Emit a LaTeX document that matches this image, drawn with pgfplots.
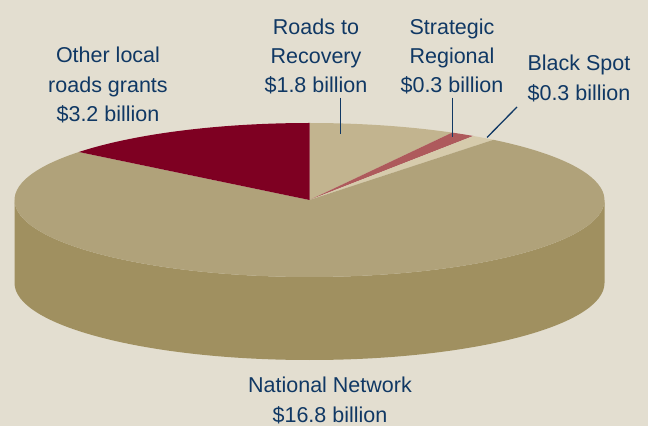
\documentclass[border=0pt]{standalone}
\usepackage{pgfplots}
\pgfplotsset{compat=1.18}
\usepackage{pgfplotstable}
\usepackage{fontspec}
\setmainfont{Liberation Sans}
\definecolor{bgc}{RGB}{227,222,208}
\definecolor{natTop}{RGB}{176,162,122}
\definecolor{natSide}{RGB}{160,144,96}
\definecolor{otherC}{RGB}{126,0,34}
\definecolor{roadsC}{RGB}{194,180,143}
\definecolor{stratC}{RGB}{174,90,92}
\definecolor{blackC}{RGB}{214,203,172}
\definecolor{txt}{RGB}{16,56,100}

\pgfplotstableread{
label value
Roads 1.8
Strategic 0.3
Black 0.3
National 16.8
Other 3.2
}\piedata
\pgfplotstablegetelem{0}{value}\of\piedata \let\vA\pgfplotsretval
\pgfplotstablegetelem{1}{value}\of\piedata \let\vB\pgfplotsretval
\pgfplotstablegetelem{2}{value}\of\piedata \let\vC\pgfplotsretval
\pgfplotstablegetelem{3}{value}\of\piedata \let\vD\pgfplotsretval
\pgfplotstablegetelem{4}{value}\of\piedata \let\vE\pgfplotsretval
\pgfmathsetmacro{\tot}{\vA+\vB+\vC+\vD+\vE}
\pgfmathsetmacro{\aO}{90}
\pgfmathsetmacro{\aA}{\aO-\vA/\tot*360}
\pgfmathsetmacro{\aB}{\aA-\vB/\tot*360}
\pgfmathsetmacro{\aC}{\aB-\vC/\tot*360}
\pgfmathsetmacro{\aD}{\aC-\vD/\tot*360}
\pgfmathsetmacro{\aE}{\aD-\vE/\tot*360}
\def\cx{309.5}\def\cy{226}\def\dep{83}

\begin{document}
\begin{tikzpicture}
\begin{axis}[width=648pt,height=426pt,scale only axis,
  xmin=0,xmax=648,ymin=0,ymax=426,hide axis,clip=true]
\coordinate (bl) at (axis cs:0,0);
\coordinate (tr) at (axis cs:648,426);
\fill[bgc] (axis cs:0,0) rectangle (axis cs:648,426);
% side
\fill[natSide] (axis cs:\cx,\cy) ++(180:295pt and 77pt)
  arc[start angle=180,end angle=360,x radius=295pt,y radius=77pt]
  -- ++(0,-\dep pt)
  arc[start angle=360,end angle=180,x radius=295pt,y radius=77pt] -- cycle;
% top slices
\fill[roadsC] (axis cs:\cx,\cy) -- ++(\aO:295pt and 77pt)
  arc[start angle=\aO,end angle=\aA,x radius=295pt,y radius=77pt] -- cycle;
\fill[stratC] (axis cs:\cx,\cy) -- ++(\aA:295pt and 77pt)
  arc[start angle=\aA,end angle=\aB,x radius=295pt,y radius=77pt] -- cycle;
\fill[blackC] (axis cs:\cx,\cy) -- ++(\aB:295pt and 77pt)
  arc[start angle=\aB,end angle=\aC,x radius=295pt,y radius=77pt] -- cycle;
\fill[natTop] (axis cs:\cx,\cy) -- ++(\aC:295pt and 77pt)
  arc[start angle=\aC,end angle=\aD,x radius=295pt,y radius=77pt] -- cycle;
\fill[otherC] (axis cs:\cx,\cy) -- ++(\aD:295pt and 77pt)
  arc[start angle=\aD,end angle=\aE,x radius=295pt,y radius=77pt] -- cycle;
% leader lines
\draw[txt,line width=1.3pt] (axis cs:340.7,328.3) -- (axis cs:340.7,292);
\draw[txt,line width=1.3pt] (axis cs:452.7,328.3) -- (axis cs:452.7,288.5);
\draw[txt,line width=1.3pt] (axis cs:517,319) -- (axis cs:487,288.5);
% labels
\begin{scope}[every node/.style={text=txt,font=\fontsize{21.5}{29.5}\selectfont,align=center,inner sep=0pt,anchor=base}]
\node at (axis cs:108,363) {Other local};
\node at (axis cs:108,333.5) {roads grants};
\node at (axis cs:108,304) {\$3.2 billion};
\node at (axis cs:316,391) {Roads to};
\node at (axis cs:316,362) {Recovery};
\node at (axis cs:316,333) {\$1.8 billion};
\node at (axis cs:452,391) {Strategic};
\node at (axis cs:452,362) {Regional};
\node at (axis cs:452,333) {\$0.3 billion};
\node at (axis cs:579,355) {Black Spot};
\node at (axis cs:579,325.3) {\$0.3 billion};
\node at (axis cs:330,33.3) {National Network};
\node at (axis cs:330,3.3) {\$16.8 billion};
\end{scope}
\end{axis}
\pgfresetboundingbox
\path[use as bounding box] (bl) rectangle (tr);
\end{tikzpicture}
\end{document}
